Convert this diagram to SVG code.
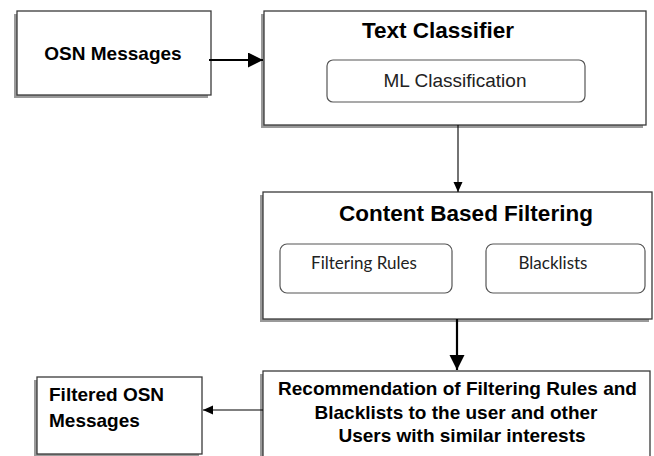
<svg xmlns="http://www.w3.org/2000/svg" width="654" height="456" viewBox="0 0 654 456">
<style>
.box{fill:#fff;stroke:#3a3a3a;stroke-width:1.3}
.shadow{fill:#9a9a9a}
.inner{fill:#fff;stroke:#555;stroke-width:1.2}
.bold{font-family:"Liberation Sans",Arial,sans-serif;font-weight:bold;fill:#000}
.reg{font-family:"Liberation Sans",Arial,sans-serif;fill:#222}
.cal{font-family:Lato,"Noto Sans",sans-serif;fill:#222;font-size:17px}
.thick{stroke:#000;stroke-width:2.2;fill:none}
.thin{stroke:#000;stroke-width:1.1;fill:none}
</style>
<defs>
<marker id="big" markerUnits="userSpaceOnUse" markerWidth="16" markerHeight="16" refX="15" refY="7.5" orient="auto"><path d="M0,0 L15,7.5 L0,15 z" fill="#000"/></marker>
<marker id="small" markerUnits="userSpaceOnUse" markerWidth="11" markerHeight="10" refX="10" refY="4.5" orient="auto"><path d="M0,0 L10,4.5 L0,9 z" fill="#000"/></marker>
</defs>
<rect width="654" height="456" fill="#fff"/>
<g id="osn-messages">
<rect class="shadow" x="14" y="14" width="194" height="84"/>
<rect class="box" x="17" y="11" width="194" height="84"/>
<text class="bold" x="113" y="60" font-size="19" text-anchor="middle">OSN Messages</text>
</g>
<g id="text-classifier">
<rect class="shadow" x="261" y="14" width="382" height="114"/>
<rect class="box" x="264" y="11" width="382" height="114"/>
<text class="bold" x="438" y="38" font-size="22.5" text-anchor="middle">Text Classifier</text>
<g id="ml-classification">
<rect class="inner" x="327" y="60" width="258" height="42" rx="6"/>
<text class="reg" x="455" y="87" font-size="19" text-anchor="middle">ML Classification</text>
</g>
</g>
<g id="content-based-filtering">
<rect class="shadow" x="260" y="195" width="389" height="127"/>
<rect class="box" x="263" y="192" width="389" height="127"/>
<text class="bold" x="466" y="221" font-size="22.5" text-anchor="middle">Content Based Filtering</text>
<g id="filtering-rules">
<rect class="inner" x="280" y="244" width="172" height="49" rx="7"/>
<text class="cal" x="364" y="269" text-anchor="middle">Filtering Rules</text>
</g>
<g id="blacklists">
<rect class="inner" x="486" y="244" width="159" height="49" rx="7"/>
<text class="cal" x="553" y="269" text-anchor="middle">Blacklists</text>
</g>
</g>
<g id="recommendation">
<rect class="shadow" x="260" y="374" width="387" height="90"/>
<rect class="box" x="263" y="371" width="387" height="90"/>
<text class="bold" font-size="19" text-anchor="middle"><tspan x="457.5" y="395">Recommendation of Filtering Rules and</tspan><tspan x="456" y="419">Blacklists to the user and other</tspan><tspan x="462" y="442">Users with similar interests</tspan></text>
</g>
<g id="filtered-osn-messages">
<rect class="shadow" x="34" y="380" width="165" height="77"/>
<rect class="box" x="37" y="377" width="165" height="77"/>
<text class="bold" font-size="19"><tspan x="49" y="401">Filtered OSN</tspan><tspan x="49" y="427">Messages</tspan></text>
</g>
<g id="connectors">
<line class="thick" x1="209" y1="60" x2="263" y2="60" marker-end="url(#big)"/>
<line class="thin" x1="458" y1="125" x2="458" y2="192" marker-end="url(#small)"/>
<line class="thick" x1="457" y1="319" x2="457" y2="370" marker-end="url(#big)"/>
<line class="thin" x1="263" y1="410" x2="203" y2="410" marker-end="url(#small)"/>
</g>
</svg>
